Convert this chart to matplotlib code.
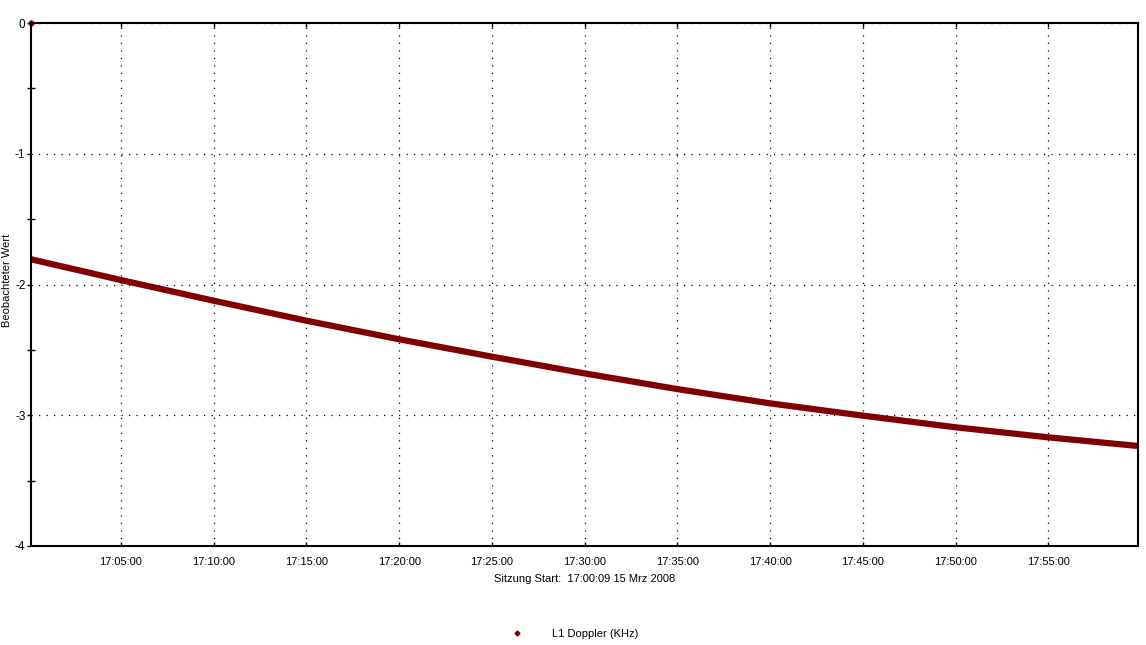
import matplotlib
matplotlib.use("Agg")
import matplotlib.pyplot as plt
import matplotlib.dates as mdates
from matplotlib.ticker import MultipleLocator
from datetime import datetime

plt.rcParams['font.family'] = ['Liberation Sans', 'DejaVu Sans']

# --- data ---
times = ["17:00:09", "17:05:00", "17:10:00", "17:15:00", "17:20:00", "17:25:00",
         "17:30:00", "17:35:00", "17:40:00", "17:45:00", "17:50:00", "17:55:00",
         "17:59:50"]
doppler = [-1.807, -1.966, -2.124, -2.277, -2.419, -2.552, -2.680, -2.800,
           -2.909, -3.003, -3.092, -3.169, -3.235]
first_time = "17:00:09"
first_value = 0.0
xtick_times = ["17:05:00", "17:10:00", "17:15:00", "17:20:00", "17:25:00", "17:30:00",
               "17:35:00", "17:40:00", "17:45:00", "17:50:00", "17:55:00"]
yticks = [0, -1, -2, -3, -4]
series_name = "L1 Doppler (KHz)"
xlabel = "Sitzung Start:  17:00:09 15 Mrz 2008"
ylabel = "Beobachteter Wert"

def t(s):
    return datetime.strptime("2008-03-15 " + s, "%Y-%m-%d %H:%M:%S")

tx = [t(s) for s in times]
col = "#800000"

fig = plt.figure(figsize=(11.46, 6.45), dpi=100)
ax = fig.add_axes([31/1146, 1 - 546/645, (1138 - 31)/1146, (546 - 23)/645])

ax.plot(tx, doppler, color=col, lw=4.5, solid_capstyle='butt')
ax.plot([t(first_time)], [first_value], 'D', color=col, ms=3, clip_on=False)

ax.set_xlim(t("17:00:09"), t("17:59:50"))
ax.set_ylim(-4, 0)

ax.set_xticks([t(s) for s in xtick_times])
ax.xaxis.set_major_formatter(mdates.DateFormatter("%H:%M:%S"))
ax.set_yticks(yticks)
ax.set_yticklabels([str(v) for v in yticks])
ax.yaxis.set_minor_locator(MultipleLocator(0.5))

ax.tick_params(axis='x', which='major', direction='in', length=3, width=1,
               top=True, bottom=True, labelsize=8, pad=8)
ax.tick_params(axis='y', which='major', direction='out', length=3, width=1,
               labelsize=8.5, pad=1)
ax.tick_params(axis='y', which='minor', direction='inout', length=6, width=1)

ax.grid(True, which='major', color='black', linestyle=(0, (1, 5)), linewidth=0.9)

for sp in ax.spines.values():
    sp.set_linewidth(1.5)
    sp.set_color('black')

ax.set_xlabel(xlabel, fontsize=8, labelpad=5)
fig.text(7/1146, 1 - 280/645, ylabel, rotation=90, fontsize=8,
         ha='center', va='center')

# legend below the plot
fig.legend([plt.Line2D([], [], marker='D', ls='', color=col, ms=2.5)], [series_name],
           loc='center', bbox_to_anchor=(572/1146, 1 - 634/645), frameon=False,
           fontsize=8, handletextpad=2.2)

fig.savefig("out.png", dpi=100)
